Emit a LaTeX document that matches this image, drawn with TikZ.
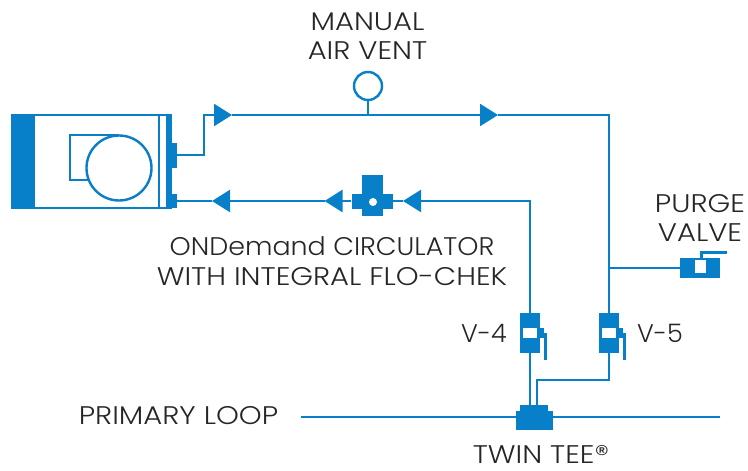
\documentclass[tikz,border=0pt]{standalone}
\usepackage{fontspec}
\setmainfont{Poppins Light}[FakeStretch=1.14]
\newfontfamily\tightfont{Poppins Light}[FakeStretch=1.055]
\newfontfamily\plainfont{Poppins Light}
\usetikzlibrary{arrows.meta}
\definecolor{pipeblue}{HTML}{0880C9}
\tikzset{
    pipe/.style = {draw=pipeblue, line width=2.4pt},
    flow/.style = {pipe, -{Triangle[length=18pt,width=22pt]}},
    solid part/.style = {fill=pipeblue, inner sep=0pt, minimum width=#1},
    hole/.style = {fill=white, inner sep=0pt},
    label text/.style = {align=center, font=\fontsize{25.5}{29.5}\selectfont, text=black!85, inner sep=0pt},
    valve body/.style = {fill=pipeblue, inner sep=0pt, minimum width=20pt, minimum height=40pt}
}
\begin{document}
\begin{tikzpicture}[x=1pt, y=-1pt]
    \useasboundingbox (0,0) rectangle (748,471);
    % circulator
    \node[solid part=23pt, minimum height=95pt] (jacket) at (22.5,161.5) {};
    \node[pipe, inner sep=0pt, minimum width=133pt, minimum height=93pt] (housing) at (100.5,161.5) {};
    \draw[pipe, line width=2pt] (159,115) -- (159,208);
    \node[solid part=5pt, minimum height=95pt] (plate) at (169.5,161.5) {};
    \node[solid part=5pt, minimum height=25pt] (outlet) at (174,155) {};
    \node[solid part=5pt, minimum height=14pt] (inlet) at (174,201) {};
    \draw[pipe] (119,135) -| (70,180) -- (100,180);
    \node[pipe, fill=white, circle, inner sep=0pt, minimum size=65pt] (motor) at (119,168) {};
    % check valve
    \node[solid part=41pt, minimum height=15pt] (check) at (372.5,201) {};
    \node[solid part=21pt, minimum height=41pt] (checktop) at (372.5,195.5) {};
    \node[hole, circle, minimum size=8pt] (checkdot) at (373,202) {};
    % valves on the risers
    \node[valve body] (vfour) at (530,333) {};
    \node[hole, minimum width=14pt, minimum height=10pt] (vfourhole) at (530,333) {};
    \node[solid part=4pt, minimum height=10pt] (vfourlug) at (542,333) {};
    \node[solid part=3pt, minimum height=27pt] (vfourbar) at (545,346.5) {};
    \node[valve body] (vfive) at (609,333) {};
    \node[hole, minimum width=14pt, minimum height=10pt] (vfivehole) at (609,333) {};
    \node[solid part=4pt, minimum height=10pt] (vfivelug) at (621,333) {};
    \node[solid part=3pt, minimum height=27pt] (vfivebar) at (624,346.5) {};
    % purge valve
    \node[valve body, minimum width=40pt, minimum height=20pt] (purge) at (700,268) {};
    \node[hole, minimum width=11pt, minimum height=13pt] (purgehole) at (700.5,266.5) {};
    \node[solid part=27pt, minimum height=3pt] (purgebar) at (713.5,252.5) {};
    \node[solid part=3pt, minimum height=4pt] (purgestem) at (701.5,255.5) {};
    % twin tee
    \node[solid part=37pt, minimum height=19pt] (tee) at (534.5,420.5) {};
    \node[solid part=28pt, minimum height=7pt] (teetop) at (534,408.5) {};
    % air vent
    \node[pipe, circle, inner sep=0pt, minimum size=28pt] (vent) at (368,86) {};
    % pipes
    \coordinate (tipa) at (232,115);
    \coordinate (tipb) at (498,115);
    \coordinate (tipc) at (403,201);
    \coordinate (tipd) at (324.5,201);
    \coordinate (tipe) at (212,201);
    \coordinate (loopa) at (300.5,417);
    \coordinate (loopb) at (720,417);
    \coordinate (riser) at (609,268);
    \draw[flow] (outlet.east) -- (204,155) |- (tipa);
    \draw[flow] (tipa) -- (tipb);
    \draw[pipe] (tipb) -| (vfive.north);
    \draw[pipe] (vent.south) -- (vent |- tipa);
    \draw[flow] (vfour.north) |- (tipc);
    \draw[pipe] (tipc) -- (check.east);
    \draw[flow, shorten <=1pt] (check.west) -- (tipd);
    \draw[flow] (tipd) -- (tipe);
    \draw[pipe] (tipe) -- (inlet.east);
    \draw[pipe] (riser) -- (purge.west);
    \draw[pipe] (vfour.south) -- (vfour |- teetop.north);
    \draw[pipe] (vfive.south) |- (537,380) -- (537,405);
    \draw[pipe] (loopa) -- (tee.west |- loopa);
    \draw[pipe] (tee.east |- loopb) -- (loopb);
    % labels
    \node[label text] (ventlabel) at (367.5,36) {MANUAL\\AIR VENT};
    \node[label text] (checklabel) at (332,261) {{\tightfont ONDemand CIRCULATOR}\\WITH INTEGRAL FLO-CHEK};
    \node[label text] (purgelabel) at (700,218) {PURGE\\VALVE};
    \node[label text] (vfourlabel) at (484,333) {\plainfont V-4};
    \node[label text] (vfivelabel) at (660,333) {\plainfont V-5};
    \node[label text] (looplabel) at (178.5,416) {PRIMARY LOOP};
    \node[label text, anchor=base] (teelabel) at (541,463) {TWIN TEE®};
\end{tikzpicture}
\end{document}
